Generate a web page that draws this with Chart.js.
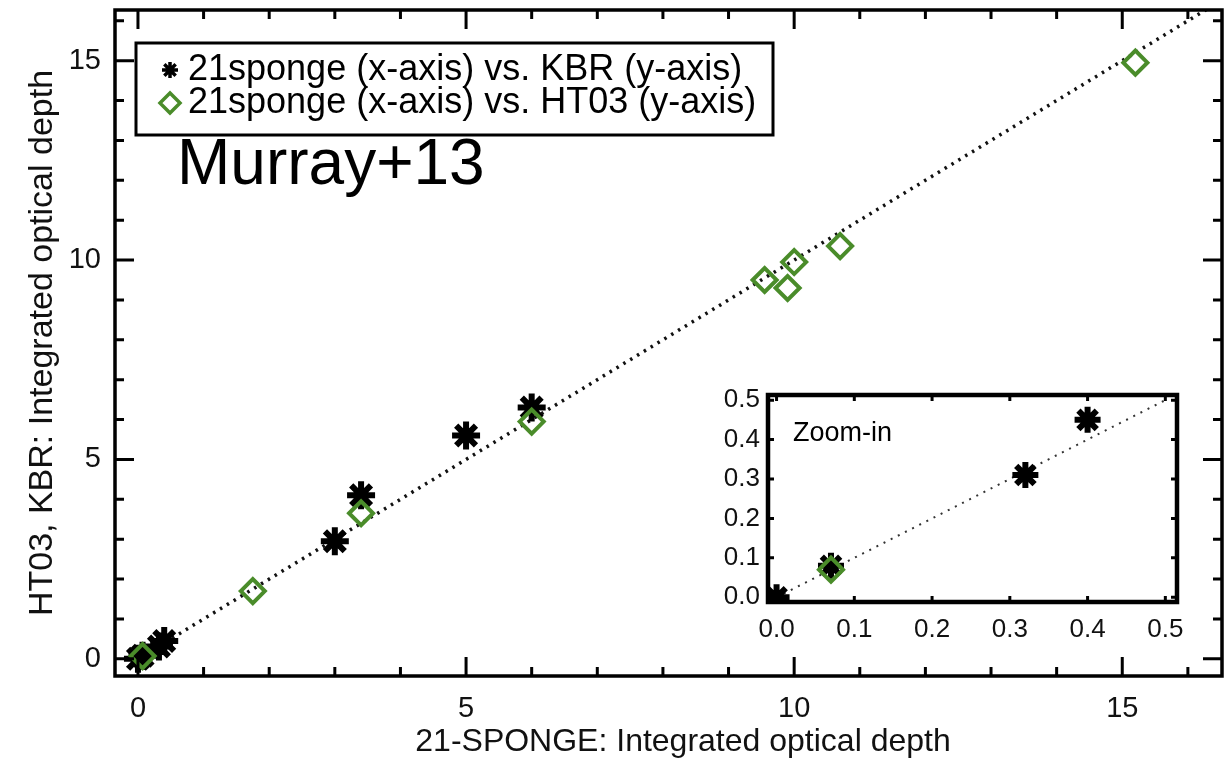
<!DOCTYPE html>
<html>
<head>
<meta charset="utf-8">
<script src="https://cdn.jsdelivr.net/npm/chart.js@4.4.1/dist/chart.umd.min.js"></script>
<style>
  html, body { margin: 0; padding: 0; background: #fff; }
  #wrap { position: relative; width: 1228px; height: 760px; }
  #mainChart { position: absolute; left: 0; top: 0; }
  #insetChart { position: absolute; left: 690px; top: 385px; }
</style>
</head>
<body>
<div id="wrap">
  <canvas id="mainChart" width="1228" height="760"></canvas>
  <canvas id="insetChart" width="500" height="265"></canvas>
</div>
<script>
// integrated optical depth: 21-SPONGE against KBR and HT03
const kbrX = [0.0, 0.07, 0.32, 0.40, 3.0, 3.4, 5.0, 6.0];
const kbrY = [0.0, 0.08, 0.31, 0.45, 2.95, 4.1, 5.6, 6.3];
const ht03X = [0.07, 1.75, 3.4, 6.0, 9.55, 9.9, 10.0, 10.7, 15.2];
const ht03Y = [0.07, 1.7, 3.65, 5.95, 9.5, 9.3, 9.95, 10.35, 14.95];

const oneToOne = [0, 17];
const insetOneToOne = [0, 0.5];

const mainTicks = [0, 5, 10, 15];
const mainMinorTicks = [1, 2, 3, 4, 6, 7, 8, 9, 11, 12, 13, 14, 16];
const insetTicks = [0.0, 0.1, 0.2, 0.3, 0.4, 0.5];

const legendLabels = ['21sponge (x-axis) vs. KBR (y-axis)', '21sponge (x-axis) vs. HT03 (y-axis)'];
const xTitle = '21-SPONGE: Integrated optical depth';
const yTitle = 'HT03, KBR: Integrated optical depth';

const GREEN = '#4a8c2a';
const FONT = "'Liberation Sans', Arial, Helvetica, sans-serif";

function pairs(xs, ys) {
    return xs.map((x, i) => ({ x: x, y: ys[i] }));
}

// fixed axis box sizes, no extra room for end labels
function fixSize(prop, size) {
    return function(scale) {
        scale[prop] = size;
        scale.paddingTop = 0;
        scale.paddingBottom = 0;
        scale.paddingLeft = 0;
        scale.paddingRight = 0;
    };
}

// inward ticks on all four sides plus the heavy frame
const frameTicks = {
    id: 'frameTicks',
    afterDraw(chart, args, opts) {
        const { ctx, chartArea: a, scales: { x, y } } = chart;
        ctx.save();
        ctx.strokeStyle = '#000';
        ctx.lineWidth = opts.tickWidth;
        ctx.beginPath();
        const marks = [];
        opts.major.forEach(v => marks.push([v, opts.majorLen]));
        opts.minor.forEach(v => marks.push([v, opts.minorLen]));
        marks.forEach(([v, len]) => {
            const px = x.getPixelForValue(v);
            const py = y.getPixelForValue(v);
            if (px >= a.left && px <= a.right) {
                ctx.moveTo(px, a.bottom); ctx.lineTo(px, a.bottom - len);
                ctx.moveTo(px, a.top); ctx.lineTo(px, a.top + len);
            }
            if (py >= a.top && py <= a.bottom) {
                ctx.moveTo(a.left, py); ctx.lineTo(a.left + len, py);
                ctx.moveTo(a.right, py); ctx.lineTo(a.right - len, py);
            }
        });
        ctx.stroke();
        ctx.lineWidth = opts.frameWidth;
        ctx.strokeRect(a.left, a.top, a.width, a.height);
        ctx.restore();
    }
};

// boxed legend, x-axis title and the text notes inside the plot
const notes = {
    id: 'notes',
    afterDraw(chart, args, opts) {
        const ctx = chart.ctx;
        ctx.save();
        if (opts.legend) {
            const box = opts.legend;
            ctx.fillStyle = '#fff';
            ctx.fillRect(box.x, box.y, box.w, box.h);
            ctx.lineWidth = 3;
            ctx.strokeStyle = '#000';
            ctx.strokeRect(box.x, box.y, box.w, box.h);
            const styles = [
                { pointStyle: 'star', radius: 8, borderWidth: 3.5, rotation: 0, color: '#000' },
                { pointStyle: 'rectRot', radius: 10, borderWidth: 3.5, rotation: 0, color: GREEN }
            ];
            ctx.font = '36px ' + FONT;
            ctx.textBaseline = 'middle';
            ctx.textAlign = 'left';
            legendLabels.forEach((label, i) => {
                const cy = box.rows[i];
                ctx.strokeStyle = styles[i].color;
                ctx.fillStyle = 'rgba(0,0,0,0)';
                ctx.lineWidth = styles[i].borderWidth;
                Chart.helpers.drawPoint(ctx, styles[i], box.markerX, cy);
                ctx.fillStyle = '#000';
                ctx.fillText(label, box.textX, cy);
            });
        }
        (opts.texts || []).forEach(t => {
            ctx.font = t.size + 'px ' + FONT;
            ctx.fillStyle = t.color || '#000';
            ctx.textBaseline = t.baseline || 'alphabetic';
            ctx.textAlign = t.align || 'left';
            ctx.fillText(t.text, t.x, t.y);
        });
        ctx.restore();
    }
};

new Chart(document.getElementById('mainChart'), {
    type: 'scatter',
    data: {
        datasets: [
            {
                label: legendLabels[1],
                data: pairs(ht03X, ht03Y),
                pointStyle: 'rectRot',
                pointRadius: 12,
                borderWidth: 4,
                borderColor: GREEN,
                backgroundColor: 'rgba(0,0,0,0)'
            },
            {
                label: legendLabels[0],
                data: pairs(kbrX, kbrY),
                pointStyle: 'star',
                pointRadius: 14,
                borderWidth: 6,
                borderColor: '#000',
                backgroundColor: '#000'
            },
            {
                label: '1:1',
                data: pairs(oneToOne, oneToOne),
                showLine: true,
                borderColor: '#111',
                borderWidth: 3.5,
                borderDash: [2.5, 5.5],
                pointRadius: 0
            }
        ]
    },
    options: {
        responsive: false,
        animation: false,
        layout: { autoPadding: false, padding: { top: 10, right: 6, left: 0, bottom: 0 } },
        scales: {
            x: {
                type: 'linear',
                min: -0.35,
                max: 16.52,
                afterFit: fixSize('height', 84),
                afterBuildTicks(scale) { scale.ticks = mainTicks.map(v => ({ value: v })); },
                grid: { display: false, drawTicks: false },
                border: { display: false },
                ticks: { color: '#111', font: { family: FONT, size: 29 }, padding: 16, maxRotation: 0 },
                title: { display: false }
            },
            y: {
                type: 'linear',
                min: -0.43,
                max: 16.27,
                afterFit: fixSize('width', 115),
                afterBuildTicks(scale) { scale.ticks = mainTicks.map(v => ({ value: v })); },
                grid: { display: false, drawTicks: false },
                border: { display: false },
                ticks: { color: '#111', font: { family: FONT, size: 29 }, padding: 14 },
                title: { display: true, text: yTitle, color: '#111', font: { family: FONT, size: 34, lineHeight: 1.1 }, padding: { top: 24, bottom: 0 } }
            }
        },
        plugins: {
            legend: { display: false },
            tooltip: { enabled: false },
            frameTicks: { major: mainTicks, minor: mainMinorTicks, majorLen: 19, minorLen: 9, tickWidth: 3, frameWidth: 3.5 },
            notes: {
                legend: { x: 136, y: 43, w: 637, h: 92, markerX: 170, textX: 188, rows: [70, 103] },
                texts: [
                    { text: 'Murray+13', x: 177, y: 184, size: 64 },
                    { text: xTitle, x: 683, y: 742, size: 32, align: 'center', baseline: 'middle', color: '#111' }
                ]
            }
        }
    },
    plugins: [frameTicks, notes]
});

new Chart(document.getElementById('insetChart'), {
    type: 'scatter',
    data: {
        datasets: [
            {
                data: pairs(ht03X, ht03Y),
                pointStyle: 'rectRot',
                pointRadius: 12,
                borderWidth: 4,
                borderColor: GREEN,
                backgroundColor: 'rgba(0,0,0,0)'
            },
            {
                data: pairs(kbrX, kbrY),
                pointStyle: 'star',
                pointRadius: 13,
                borderWidth: 6,
                borderColor: '#000',
                backgroundColor: '#000'
            },
            {
                data: pairs(insetOneToOne, insetOneToOne),
                showLine: true,
                borderColor: '#333',
                borderWidth: 2,
                borderDash: [2, 6],
                pointRadius: 0
            }
        ]
    },
    options: {
        responsive: false,
        animation: false,
        layout: { autoPadding: false, padding: { top: 10, right: 13, left: 0, bottom: 0 } },
        scales: {
            x: {
                type: 'linear',
                min: -0.011,
                max: 0.515,
                afterFit: fixSize('height', 48),
                afterBuildTicks(scale) { scale.ticks = insetTicks.map(v => ({ value: v })); },
                grid: { display: false, drawTicks: false },
                border: { display: false },
                ticks: { color: '#111', font: { family: FONT, size: 26 }, padding: 12, maxRotation: 0, callback: v => v.toFixed(1) }
            },
            y: {
                type: 'linear',
                min: -0.012,
                max: 0.513,
                afterFit: fixSize('width', 78),
                afterBuildTicks(scale) { scale.ticks = insetTicks.map(v => ({ value: v })); },
                grid: { display: false, drawTicks: false },
                border: { display: false },
                ticks: { color: '#111', font: { family: FONT, size: 26 }, padding: 8, callback: v => v.toFixed(1) }
            }
        },
        plugins: {
            legend: { display: false },
            tooltip: { enabled: false },
            frameTicks: { major: insetTicks, minor: [], majorLen: 6, minorLen: 0, tickWidth: 3, frameWidth: 4.5 },
            notes: { texts: [{ text: 'Zoom-in', x: 103, y: 56, size: 27 }] }
        }
    },
    plugins: [frameTicks, notes]
});
</script>
</body>
</html>
